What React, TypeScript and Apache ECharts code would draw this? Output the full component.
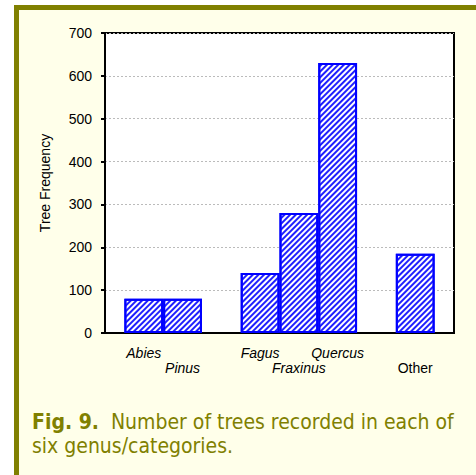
import React, { useEffect, useRef } from "react";
import * as echarts from "echarts";

// ---- data ----
const genusGroups: string[][] = [
  ["Abies", "Pinus"],
  ["Fagus", "Fraxinus", "Quercus"],
  ["Other"],
];
const treeCounts: number[] = [80, 80, 140, 280, 630, 185];
const yMin = 0;
const yMax = 700;
const yStep = 100;
const yAxisTitle = "Tree Frequency";
const captionLabel = "Fig. 9.";
const captionLine1 = "Number of trees recorded in each of";
const captionLine2 = "six genus/categories.";
const uprightNames: string[] = ["Other"];

const OLIVE = "#808000";
const CREAM = "#FFFFEA";
const BLUE = "#0000FF";

export default function App() {
  const ref = useRef<HTMLDivElement>(null);

  useEffect(() => {
    if (!ref.current) return;
    const chart = echarts.init(ref.current, null, { renderer: "svg" });

    // build slots: a gap before each group and after the last one
    const slots: string[] = ["gap0"];
    genusGroups.forEach((g, i) => {
      g.forEach((n) => slots.push(n));
      slots.push("gap" + (i + 1));
    });
    const names = genusGroups.flat();
    const seriesData = slots.map((s) => {
      const idx = names.indexOf(s);
      return idx >= 0 ? treeCounts[idx] : "-";
    });

    const labelFont = "Liberation Sans, Arial, sans-serif";
    const capFont = "DejaVu Sans Condensed, DejaVu Sans, sans-serif";

    chart.setOption({
      animation: false,
      backgroundColor: "transparent",
      grid: {
        left: 105,
        top: 33,
        width: 349,
        height: 300,
        show: true,
        backgroundColor: "#ffffff",
        borderColor: "#000000",
        borderWidth: 2,
      },
      xAxis: {
        type: "category",
        data: slots,
        boundaryGap: false,
        axisLine: { lineStyle: { color: "#000", width: 2 } },
        axisTick: { show: false },
        splitLine: { show: false },
        axisLabel: {
          interval: 0,
          margin: 12,
          formatter: (value: string) => {
            const idx = names.indexOf(value);
            if (idx < 0) return "";
            const key = uprightNames.includes(value) ? "n" : "i";
            return idx % 2 === 0 ? `{${key}|${value}}` : `{g| }\n{${key}|${value}}`;
          },
          rich: {
            i: { fontStyle: "italic", fontSize: 14, fontFamily: labelFont, color: "#000", lineHeight: 15 },
            n: { fontSize: 14, fontFamily: labelFont, color: "#000", lineHeight: 15 },
            g: { fontSize: 14, fontFamily: labelFont, lineHeight: 15 },
          },
        },
      },
      yAxis: {
        type: "value",
        min: yMin,
        max: yMax,
        interval: yStep,
        name: yAxisTitle,
        nameLocation: "middle",
        nameRotate: 90,
        nameGap: 53,
        nameTextStyle: { fontSize: 14, fontFamily: labelFont, color: "#000" },
        axisLine: { show: true, lineStyle: { color: "#000", width: 2 } },
        axisTick: { show: true, length: 4, lineStyle: { color: "#000", width: 2 } },
        axisLabel: { fontSize: 14, fontFamily: labelFont, color: "#000", margin: 13 },
        splitLine: { show: true, lineStyle: { color: "#bbbbbb", type: [2, 2], width: 1 } },
      },
      series: [
        {
          type: "bar",
          data: seriesData,
          barWidth: "100%",
          itemStyle: {
            color: "#ffffff",
            borderColor: BLUE,
            borderWidth: 2,
            decal: {
              symbol: "rect",
              symbolSize: 1,
              dashArrayX: [1, 0],
              dashArrayY: [1.2, 1.6],
              rotation: -Math.PI / 4,
              color: "#1f1fff",
            },
          },
        },
      ],
      graphic: [
        {
          type: "text",
          left: 32,
          top: 410,
          style: {
            text: `{b|${captionLabel}}  ${captionLine1}\n${captionLine2}`,
            fill: OLIVE,
            fontSize: 21,
            fontFamily: capFont,
            lineHeight: 24,
            rich: {
              b: { fontWeight: "bold", fontSize: 21, fontFamily: capFont, fill: OLIVE, lineHeight: 24 },
            },
          },
        },
      ],
    });

    return () => chart.dispose();
  }, []);

  return (
    <div style={{ position: "fixed", left: 0, top: 0, width: 476, height: 475, background: "#fff", overflow: "hidden" }}>
      <div
        style={{
          position: "absolute",
          left: 14,
          top: 5,
          width: 462,
          height: 470,
          boxSizing: "border-box",
          borderLeft: `5px solid ${OLIVE}`,
          borderTop: `5px solid ${OLIVE}`,
          background: CREAM,
        }}
      />
      <div ref={ref} style={{ position: "absolute", left: 0, top: 0, width: 476, height: 475 }} />
    </div>
  );
}
